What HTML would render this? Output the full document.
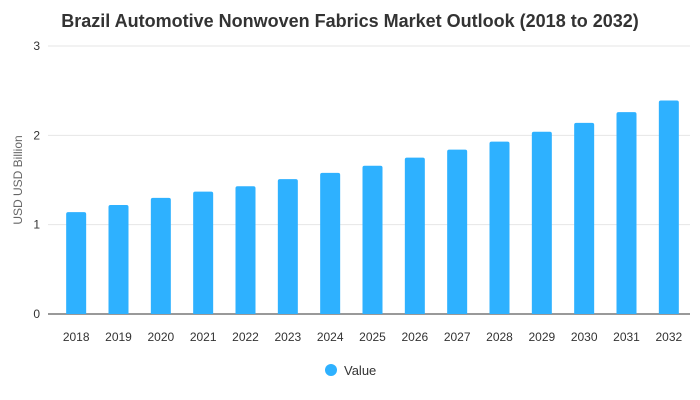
<!DOCTYPE html>
<html><head><meta charset="utf-8"><style>
html,body{margin:0;padding:0;background:#fff;width:700px;height:400px;overflow:hidden;font-family:"Liberation Sans",Arial,sans-serif;}
</style></head><body>
<svg id="chart" width="700" height="400">
<text x="350" y="27" text-anchor="middle" font-size="18" font-weight="bold" fill="#333">Brazil Automotive Nonwoven Fabrics Market Outlook (2018 to 2032)</text>
<g id="grid"></g><g id="bars"></g><g id="xlabels"></g><g id="ylabels"></g>
<text transform="translate(22,180) rotate(-90)" text-anchor="middle" font-size="12" fill="#666">USD USD Billion</text>
<g>
<circle cx="331" cy="370" r="6" fill="#2eb1ff"/>
<text x="344" y="375" font-size="13" fill="#333">Value</text>
</g>
</svg>
<script>
const categories=["2018","2019","2020","2021","2022","2023","2024","2025","2026","2027","2028","2029","2030","2031","2032"];
const values=[1.14,1.22,1.30,1.37,1.43,1.51,1.58,1.66,1.75,1.84,1.93,2.04,2.14,2.26,2.39];
const yTicks=[0,1,2,3];
const NS="http://www.w3.org/2000/svg";
const x0=55,x1=690,y0=314,y1=46,yMax=3;
const band=(x1-x0)/categories.length;
const xs=i=>x0+band*i+band/2;
const ys=v=>y0-(v/yMax)*(y0-y1);
function mk(t,a,p){const e=document.createElementNS(NS,t);for(const k in a)e.setAttribute(k,a[k]);p.appendChild(e);return e;}
const g=document.getElementById('grid'),yl=document.getElementById('ylabels');
yTicks.forEach(t=>{
 const l=mk('line',{x1:48,x2:x1,y1:ys(t),y2:ys(t),stroke:t===0?'#333':'#e6e6e6','stroke-width':1},g);
 
 
 const tx=mk('text',{x:40,y:ys(t)+4,'text-anchor':'end','font-size':12,fill:'#333'},yl);
 tx.textContent=t;
 
 
});
const b=document.getElementById('bars'),xl=document.getElementById('xlabels');
categories.forEach((c,i)=>{
 const top=ys(values[i]),w=20,x=xs(i)-w/2,r2=2;
 const p=mk('path',{d:`M${x},${y0}V${top+r2}Q${x},${top} ${x+r2},${top}H${x+w-r2}Q${x+w},${top} ${x+w},${top+r2}V${y0}Z`,fill:'#2eb1ff'},b);
 
 
 const tx=mk('text',{x:xs(i),y:341,'text-anchor':'middle','font-size':12,fill:'#333'},xl);
 tx.textContent=c;
 
 
});
</script>
</body></html>
